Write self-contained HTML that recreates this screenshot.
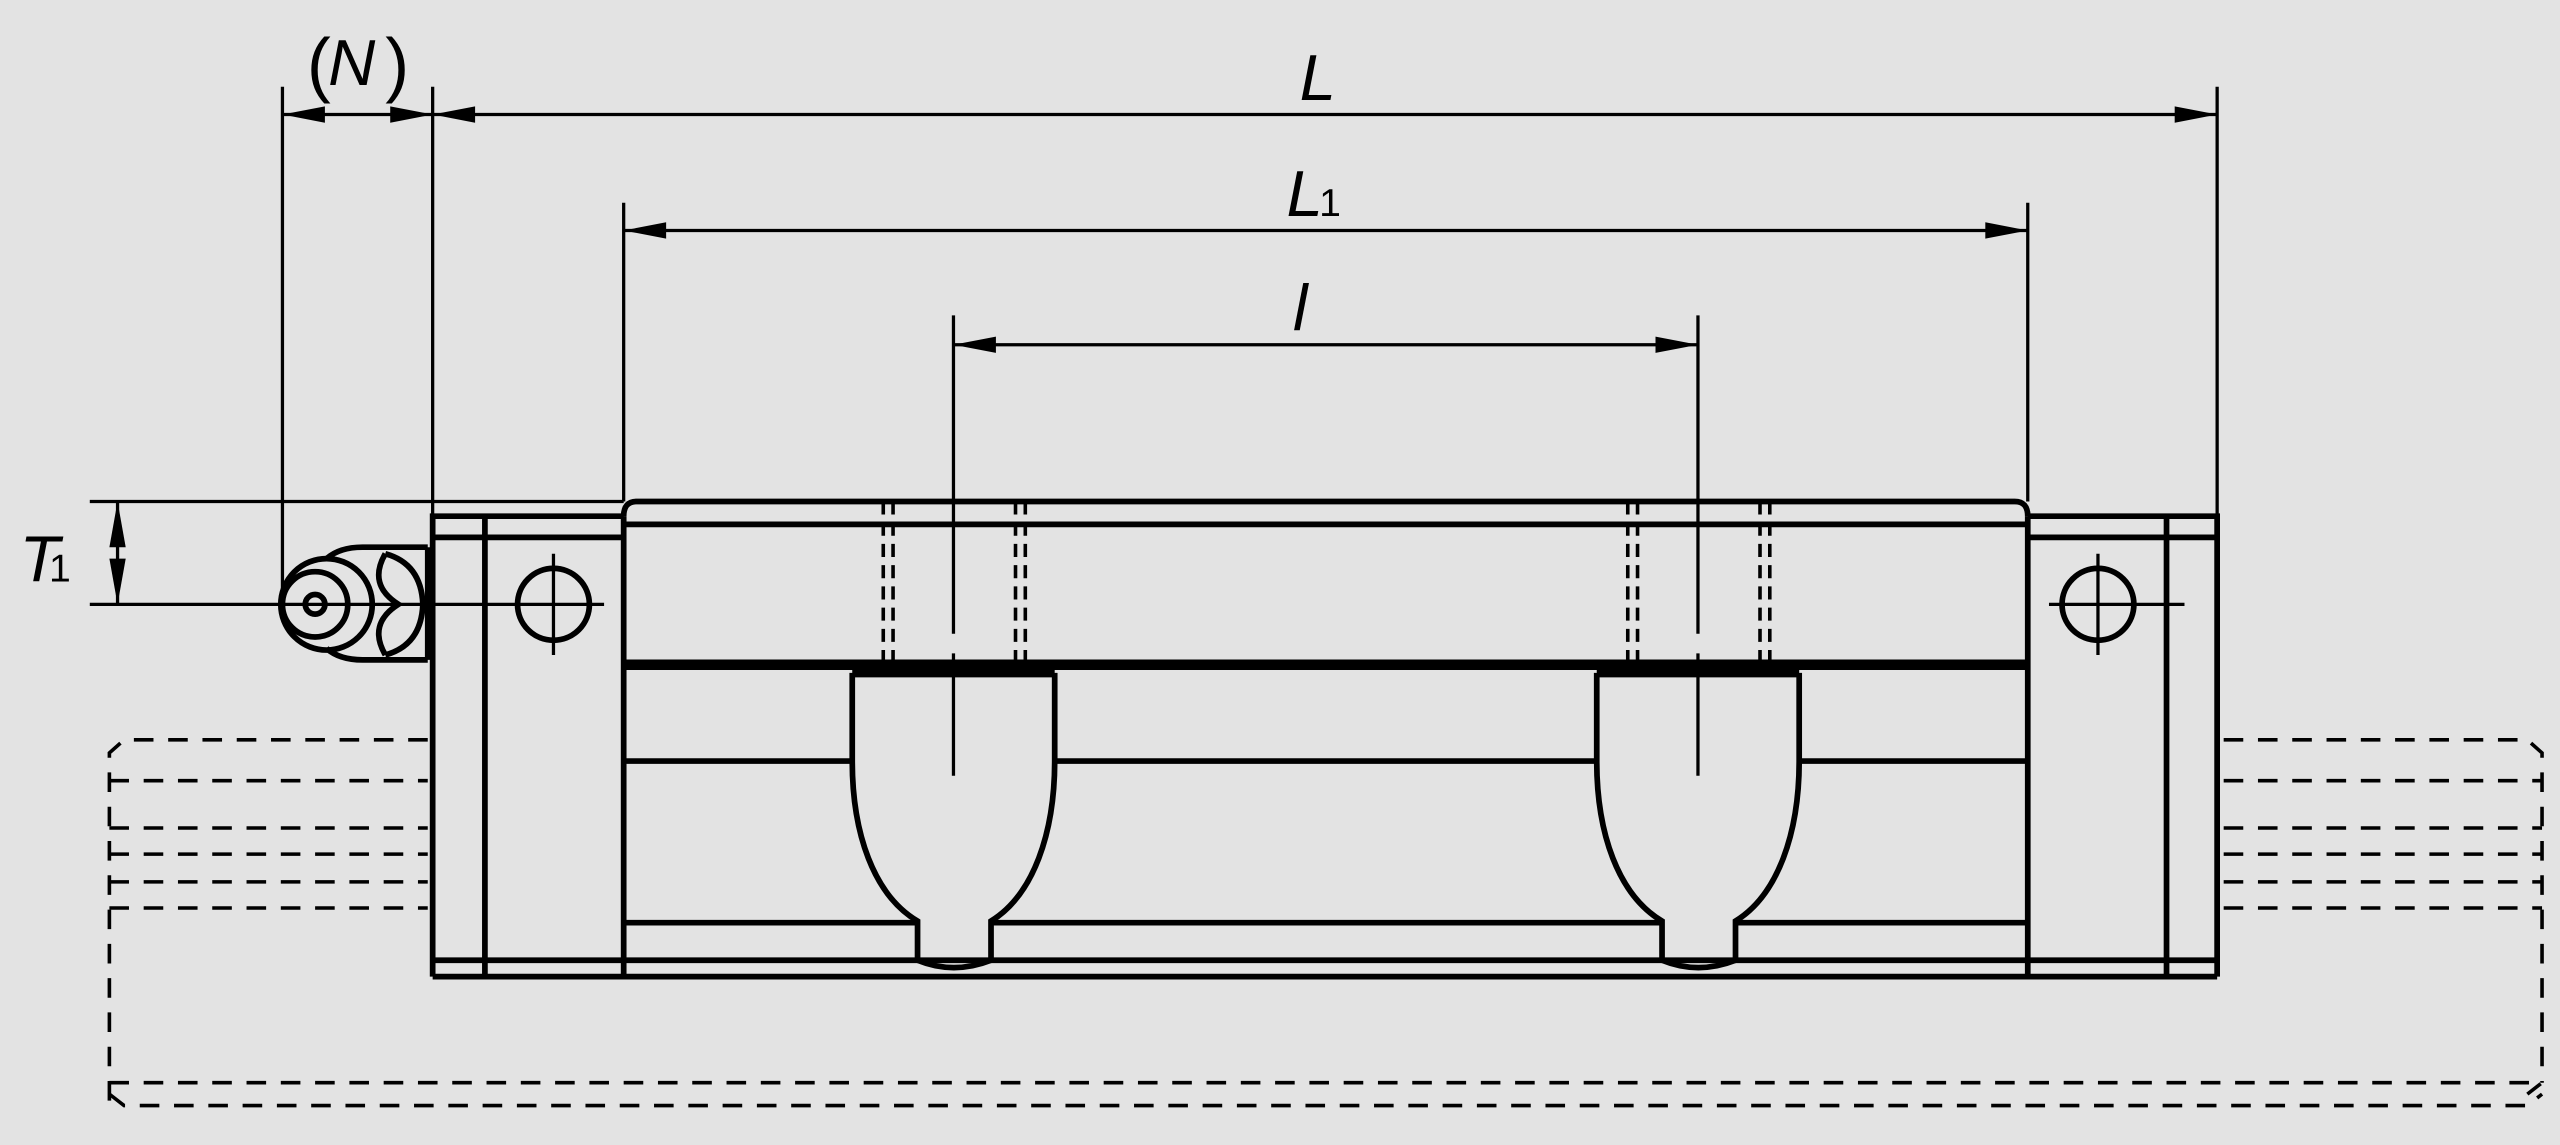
<!DOCTYPE html>
<html><head><style>html,body{margin:0;padding:0;background:#e3e3e3}svg{display:block}</style></head>
<body>
<svg width="2560" height="1145" viewBox="0 0 1568 701" xmlns="http://www.w3.org/2000/svg">
<rect width="1568" height="701" fill="#e3e3e3"/>
<g stroke="#000" fill="none" stroke-width="2">
<line x1="173" y1="53" x2="173" y2="370"/>
<line x1="265" y1="53" x2="265" y2="316"/>
<line x1="1358" y1="53" x2="1358" y2="316"/>
<line x1="382" y1="124" x2="382" y2="307"/>
<line x1="1242" y1="124" x2="1242" y2="307"/>
<line x1="584" y1="193" x2="584" y2="388"/>
<line x1="584" y1="400" x2="584" y2="475"/>
<line x1="1040" y1="193" x2="1040" y2="388"/>
<line x1="1040" y1="400" x2="1040" y2="475"/>
<line x1="173" y1="70" x2="1358" y2="70"/>
<line x1="382" y1="141" x2="1242" y2="141"/>
<line x1="584" y1="211" x2="1040" y2="211"/>
<line x1="55" y1="307" x2="382" y2="307"/>
<line x1="55" y1="370" x2="370" y2="370"/>
<line x1="72" y1="307" x2="72" y2="370"/>
<line x1="1255" y1="370" x2="1338" y2="370"/>
</g>
<g fill="#000">
<polygon points="173,70 199,65 199,75"/>
<polygon points="265,70 239,65 239,75"/>
<polygon points="265,70 291,65 291,75"/>
<polygon points="1358,70 1332,65 1332,75"/>
<polygon points="382,141 408,136 408,146"/>
<polygon points="1242,141 1216,136 1216,146"/>
<polygon points="584,211 610,206 610,216"/>
<polygon points="1040,211 1014,206 1014,216"/>
<polygon points="72,307 67,335 77,335"/>
<polygon points="72,370 67,342 77,342"/>
</g>
<g font-family="Liberation Sans, sans-serif" font-style="italic" font-size="40" fill="#000">
<text x="188" y="54" font-style="normal" font-size="44" font-weight="300">(</text>
<text x="201" y="52">N</text>
<text x="236" y="54" font-style="normal" font-size="44">)</text>
<text x="796" y="61">L</text>
<text x="788" y="132">L</text><text x="808" y="132" font-style="normal" font-size="24">1</text>
<text x="792" y="202">l</text>
<text x="12" y="356">T</text><text x="30" y="356" font-style="normal" font-size="24">1</text>
</g>
<g stroke="#000" fill="none" stroke-width="2.2" stroke-dasharray="12,9">
<path d="M262,453 H76 L67,461 V677"/>
<line x1="67" y1="478" x2="262" y2="478"/>
<line x1="67" y1="507" x2="262" y2="507"/>
<line x1="67" y1="523" x2="262" y2="523"/>
<line x1="67" y1="540" x2="262" y2="540"/>
<line x1="67" y1="556" x2="262" y2="556"/>
<path d="M1362,453 H1548 L1557,461 V663"/>
<line x1="1362" y1="478" x2="1557" y2="478"/>
<line x1="1362" y1="507" x2="1557" y2="507"/>
<line x1="1362" y1="523" x2="1557" y2="523"/>
<line x1="1362" y1="540" x2="1557" y2="540"/>
<line x1="1362" y1="556" x2="1557" y2="556"/>
<path d="M67,663 H1557 L1548,670"/>
<path d="M67,670 L76,677 H1548 L1557,670"/>
</g>
<g stroke="#000" fill="none" stroke-width="2.2" stroke-dasharray="8,5">
<line x1="541" y1="307" x2="541" y2="407"/><line x1="547" y1="307" x2="547" y2="407"/>
<line x1="622" y1="307" x2="622" y2="407"/><line x1="628" y1="307" x2="628" y2="407"/>
<line x1="997" y1="307" x2="997" y2="407"/><line x1="1003" y1="307" x2="1003" y2="407"/>
<line x1="1078" y1="307" x2="1078" y2="407"/><line x1="1084" y1="307" x2="1084" y2="407"/>
</g>
<g stroke="#000" fill="none" stroke-width="3.5">
<path d="M265,598 V316 H382"/>
<path d="M1242,316 H1358 V598"/>
<line x1="265" y1="329" x2="382" y2="329"/>
<line x1="1242" y1="329" x2="1358" y2="329"/>
<line x1="297" y1="316" x2="297" y2="598"/>
<line x1="1327" y1="316" x2="1327" y2="598"/>
<line x1="382" y1="316" x2="382" y2="598"/>
<line x1="1242" y1="316" x2="1242" y2="598"/>
<path d="M382,316 Q382,307 390,307 H1234 Q1242,307 1242,316"/>
<line x1="382" y1="321" x2="1242" y2="321"/>
<line x1="382" y1="407" x2="1242" y2="407" stroke-width="6.5"/>
<line x1="522" y1="412" x2="646" y2="412" stroke-width="5.5"/>
<line x1="978" y1="412" x2="1102" y2="412" stroke-width="5.5"/>
<line x1="382" y1="466" x2="522" y2="466"/>
<line x1="646" y1="466" x2="978" y2="466"/>
<line x1="1102" y1="466" x2="1242" y2="466"/>
<line x1="382" y1="565" x2="562" y2="565"/>
<line x1="607" y1="565" x2="1017" y2="565"/>
<line x1="1063" y1="565" x2="1242" y2="565"/>
<line x1="265" y1="588" x2="1358" y2="588"/>
<line x1="265" y1="598" x2="1358" y2="598"/>
<path d="M522,412 V466 C522,510 535,548 562,564 V588 Q584,597 607,588 V564 C633,548 646,510 646,466 V412"/>
<path d="M978,412 V466 C978,510 991,548 1018,564 V588 Q1040,597 1063,588 V564 C1089,548 1102,510 1102,466 V412"/>
<circle cx="339" cy="370" r="22"/>
<circle cx="1285" cy="370" r="22"/>
<path d="M262,335 H222 Q208,335 200,342"/>
<path d="M262,404 H222 Q208,404 200,397"/>
<line x1="262" y1="335" x2="262" y2="404"/>
<circle cx="200" cy="370" r="28"/>
<circle cx="193" cy="370" r="20"/>
<circle cx="193" cy="370" r="6"/>
<path d="M236,339 Q258,345 259,370 Q258,395 236,401"/>
<path d="M236,339 Q225,358 244,370 Q225,382 236,401"/>
</g>
<g stroke="#000" stroke-width="2">
<line x1="339" y1="339" x2="339" y2="401"/>
<line x1="1285" y1="339" x2="1285" y2="401"/>
</g>
</svg>
</body></html>
